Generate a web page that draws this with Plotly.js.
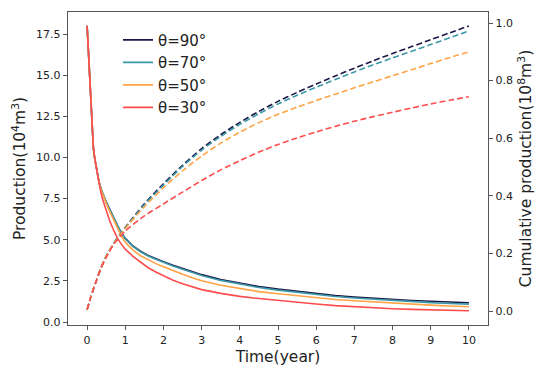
<!DOCTYPE html>
<html>
<head>
<meta charset="utf-8">
<script src="https://cdn.plot.ly/plotly-3.0.1.min.js"></script>
<style>html,body{margin:0;padding:0;background:#fff;}#chart{width:550px;height:376px;}</style>
</head>
<body>
<div id="chart"></div>
<script>
// Time (year) for production curves
const tProd = [0, 0.165, 0.2, 0.25, 0.3, 0.35, 0.4, 0.5, 0.6, 0.7, 0.8, 0.9, 1.0, 1.2, 1.4, 1.6, 1.8, 2.0, 2.25, 2.5, 2.75, 3.0, 3.5, 4.0, 4.5, 5.0, 5.5, 6.0, 6.5, 7.0, 7.5, 8.0, 8.5, 9.0, 9.5, 10];
// Production (10^4 m^3)
const prod90 = [18, 10.57, 9.95, 9.22, 8.65, 8.2, 7.85, 7.3, 6.8, 6.32, 5.85, 5.42, 5.08, 4.62, 4.3, 4.04, 3.84, 3.66, 3.45, 3.25, 3.06, 2.88, 2.58, 2.35, 2.16, 2.0, 1.86, 1.73, 1.61, 1.52, 1.44, 1.37, 1.31, 1.26, 1.21, 1.17];
const prod70 = [18, 10.57, 9.95, 9.22, 8.65, 8.2, 7.85, 7.29, 6.78, 6.3, 5.83, 5.4, 5.06, 4.6, 4.27, 4.01, 3.81, 3.62, 3.41, 3.21, 3.01, 2.83, 2.53, 2.3, 2.1, 1.94, 1.8, 1.67, 1.55, 1.46, 1.38, 1.31, 1.24, 1.18, 1.13, 1.09];
const prod50 = [18, 10.57, 9.95, 9.22, 8.62, 8.15, 7.8, 7.22, 6.68, 6.18, 5.68, 5.22, 4.85, 4.37, 4.03, 3.77, 3.55, 3.36, 3.12, 2.9, 2.69, 2.51, 2.23, 2.02, 1.85, 1.72, 1.6, 1.48, 1.37, 1.29, 1.215, 1.15, 1.09, 1.03, 0.975, 0.93];
const prod30 = [18, 10.57, 9.95, 9.2, 8.55, 8.0, 7.5, 6.75, 6.1, 5.55, 5.07, 4.72, 4.43, 3.99, 3.62, 3.3, 3.04, 2.8, 2.54, 2.32, 2.13, 1.97, 1.74, 1.56, 1.43, 1.31, 1.2, 1.1, 1.0, 0.93, 0.86, 0.81, 0.77, 0.74, 0.715, 0.69];
// Time (year) for cumulative curves
const tCum = [0, 0.1, 0.25, 0.36, 0.5, 0.7, 0.86, 1.0, 1.5, 2.0, 2.5, 3.0, 3.5, 4.0, 4.5, 5.0, 5.5, 6.0, 6.5, 7.0, 7.5, 8.0, 8.5, 9.0, 9.5, 10];
// Cumulative production (10^8 m^3)
const cum90 = [0.004, 0.05, 0.108, 0.148, 0.19, 0.235, 0.265, 0.29, 0.372, 0.442, 0.506, 0.564, 0.612, 0.655, 0.693, 0.728, 0.759, 0.788, 0.816, 0.843, 0.869, 0.894, 0.918, 0.942, 0.966, 0.99];
const cum70 = [0.004, 0.05, 0.108, 0.148, 0.19, 0.235, 0.265, 0.289, 0.369, 0.437, 0.502, 0.559, 0.606, 0.648, 0.685, 0.719, 0.749, 0.777, 0.804, 0.83, 0.855, 0.879, 0.902, 0.925, 0.949, 0.972];
const cum50 = [0.004, 0.05, 0.108, 0.148, 0.19, 0.234, 0.263, 0.287, 0.362, 0.428, 0.487, 0.538, 0.583, 0.621, 0.654, 0.683, 0.708, 0.731, 0.753, 0.775, 0.796, 0.817, 0.838, 0.859, 0.88, 0.9];
const cum30 = [0.004, 0.05, 0.108, 0.148, 0.185, 0.232, 0.258, 0.278, 0.33, 0.372, 0.413, 0.453, 0.49, 0.522, 0.552, 0.578, 0.601, 0.622, 0.641, 0.659, 0.675, 0.69, 0.705, 0.719, 0.732, 0.744];

const names = ['θ=90°', 'θ=70°', 'θ=50°', 'θ=30°'];
const colors = ['#1b1748', '#3b98a6', '#ffa345', '#ff4d4d'];
const prods = [prod90, prod70, prod50, prod30];
const cums = [cum90, cum70, cum50, cum30];

const traces = [];
for (let i = 0; i < 4; i++) {
  traces.push({
    x: tCum, y: cums[i], type: 'scatter', mode: 'lines', yaxis: 'y2',
    line: {color: colors[i], width: 1.6, dash: '6px,3px', shape: 'spline', smoothing: 0.7},
    showlegend: false, hoverinfo: 'skip'
  });
}
for (let i = 0; i < 4; i++) {
  traces.push({
    x: tProd, y: prods[i], type: 'scatter', mode: 'lines', name: names[i],
    line: {color: colors[i], width: 1.6, shape: 'linear'}
  });
}

const axisCommon = {
  showgrid: false, zeroline: false, showline: true, linecolor: '#555', linewidth: 1.3,
  ticks: 'outside', ticklen: 4, tickwidth: 1, tickcolor: '#555',
  tickfont: {family: 'DejaVu Sans', size: 11, color: '#222'}
};
const titleFont = {family: 'DejaVu Sans', size: 15.5, color: '#222'};

const layout = {
  width: 550, height: 376,
  margin: {l: 68, r: 62, t: 12, b: 51},
  paper_bgcolor: '#fff', plot_bgcolor: '#fff',
  font: {family: 'DejaVu Sans', color: '#222'},
  xaxis: Object.assign({}, axisCommon, {
    range: [-0.5, 10.5], tickmode: 'array', tickvals: [0,1,2,3,4,5,6,7,8,9,10],
    mirror: true,
    title: {text: 'Time(year)', font: titleFont, standoff: 5}
  }),
  yaxis: Object.assign({}, axisCommon, {
    range: [-0.18, 18.84], tickmode: 'array', tickvals: [0, 2.5, 5, 7.5, 10, 12.5, 15, 17.5],
    tickformat: '.1f',
    title: {text: 'Production(10<sup>4</sup>m<sup>3</sup>)', font: titleFont, standoff: 6}
  }),
  yaxis2: Object.assign({}, axisCommon, {
    overlaying: 'y', side: 'right', range: [-0.0486, 1.0382],
    tickmode: 'array', tickvals: [0, 0.2, 0.4, 0.6, 0.8, 1.0], tickformat: '.1f',
    title: {text: 'Cumulative production(10<sup>8</sup>m<sup>3</sup>)', font: titleFont, standoff: 8}
  }),
  legend: {
    x: 0.119, y: 0.963, xanchor: 'left', yanchor: 'top',
    bgcolor: 'rgba(255,255,255,0)', borderwidth: 0,
    font: {family: 'DejaVu Sans', size: 15, color: '#222'},
    tracegroupgap: 0, itemwidth: 30
  },
  showlegend: true
};

Plotly.newPlot('chart', traces, layout, {displayModeBar: false, staticPlot: true});
</script>
</body>
</html>
